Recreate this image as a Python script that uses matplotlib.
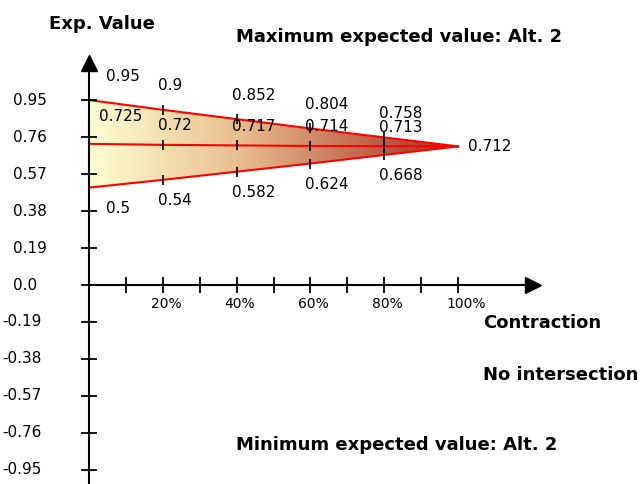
# expected value vs contraction, gradient wedge chart
import matplotlib
matplotlib.use('Agg')
import matplotlib.pyplot as plt
import numpy as np
from matplotlib.colors import LinearSegmentedColormap
from matplotlib.path import Path
from matplotlib.patches import PathPatch

# data
contraction = [0, 20, 40, 60, 80, 100]
upper = [0.95, 0.9, 0.852, 0.804, 0.758, 0.712]
middle = [0.725, 0.72, 0.717, 0.714, 0.713, 0.712]
lower = [0.5, 0.54, 0.582, 0.624, 0.668, 0.712]

ytick_values = [-0.95, -0.76, -0.57, -0.38, -0.19, 0.0, 0.19, 0.38, 0.57, 0.76, 0.95]
ytick_labels = ['-0.95', '-0.76', '-0.57', '-0.38', '-0.19', '0.0',
                '0.19', '0.38', '0.57', '0.76', '0.95']
xtick_values = [10, 20, 30, 40, 50, 60, 70, 80, 90, 100]
xlabel_values = [20, 40, 60, 80, 100]
xlabel_texts = ['20%', '40%', '60%', '80%', '100%']

W, H = 643, 484
X0, PX_PCT = 89, 3.69      # pixel of 0 %, pixels per percent
Y0, PX_VAL = 285, 194.7    # pixel row of 0.0, pixels per unit

fig = plt.figure(figsize=(W / 100, H / 100), dpi=100)
ax = fig.add_axes([0, 0, 1, 1])
ax.axis('off')

# gradient wedge between upper and lower line
verts = list(zip(contraction, upper)) + list(zip(contraction[::-1], lower[::-1]))
patch = PathPatch(Path(verts), facecolor='none', edgecolor='none')
ax.add_patch(patch)
cmap = LinearSegmentedColormap.from_list('wedge', [
    (0.0, (1.0, 1.0, 0.82)),
    (0.4, (0.91, 0.75, 0.57)),
    (0.75, (0.76, 0.40, 0.30)),
    (1.0, (0.65, 0.18, 0.12))])
ax.imshow(np.linspace(0, 1, 256).reshape(1, -1), cmap=cmap, aspect='auto',
          extent=[0, 100, min(lower), max(upper)], clip_path=patch, zorder=1)

for series in (upper, middle, lower):
    ax.plot(contraction, series, color='red', lw=1.5, zorder=2)
    ax.plot(contraction[1:-1], series[1:-1], ls='none', marker='|', ms=7,
            mew=1.2, color='black', zorder=3)

ax.set_xlim(-X0 / PX_PCT, (W - X0) / PX_PCT)
ax.set_ylim((Y0 - H) / PX_VAL, Y0 / PX_VAL)
ylo = ax.get_ylim()[0]

# axes with arrow heads
ax.plot([0, 0], [ylo, (Y0 - 66) / PX_VAL], color='black', lw=1.5, zorder=4)
ax.plot([0], [(Y0 - 63) / PX_VAL], marker='^', ms=11, color='black', zorder=4)
ax.plot([0, (527 - X0) / PX_PCT], [0, 0], color='black', lw=1.5, zorder=4)
ax.plot([(533 - X0) / PX_PCT], [0], marker='>', ms=11, color='black', zorder=4)

ax.plot([0] * len(ytick_values), ytick_values, ls='none', marker='_', ms=11,
        mew=1.3, color='black', zorder=4)
ax.plot(xtick_values, [0] * len(xtick_values), ls='none', marker='|', ms=11,
        mew=1.3, color='black', zorder=4)

for v, lab in zip(ytick_values, ytick_labels):
    xpos = (2 if v < 0 else 13) / W
    ax.text(xpos, v, lab, transform=ax.get_yaxis_transform(), ha='left',
            va='center', fontsize=11)

for x, lab in zip(xlabel_values, xlabel_texts):
    ax.annotate(lab, (x, 0), xytext=(-12, -19), textcoords='offset pixels',
                ha='left', va='center', fontsize=10)

# value labels
for i, (x, v) in enumerate(zip(contraction[:-1], upper[:-1])):
    ax.annotate(f'{v:g}', (x, v), xytext=(17 if i == 0 else -5, 24),
                textcoords='offset pixels', ha='left', va='center', fontsize=11)
for i, (x, v) in enumerate(zip(contraction[:-1], middle[:-1])):
    ax.annotate(f'{v:g}', (x, v), xytext=(10 if i == 0 else -5, 27 if i == 0 else 19),
                textcoords='offset pixels', ha='left', va='center', fontsize=11)
for i, (x, v) in enumerate(zip(contraction[:-1], lower[:-1])):
    ax.annotate(f'{v:g}', (x, v), xytext=(17 if i == 0 else -5, -21),
                textcoords='offset pixels', ha='left', va='center', fontsize=11)
ax.annotate(f'{middle[-1]:g}', (contraction[-1], middle[-1]), xytext=(10, 0),
            textcoords='offset pixels', ha='left', va='center', fontsize=11)

# titles and notes
bold = dict(fontweight='bold', fontsize=13, va='baseline', ha='left')
fig.text(49 / W, 1 - 29 / H, 'Exp. Value', **bold)
fig.text(236 / W, 1 - 42 / H, 'Maximum expected value: Alt. 2', **bold)
fig.text(483 / W, 1 - 328 / H, 'Contraction', **bold)
fig.text(483 / W, 1 - 380 / H, 'No intersection', **bold)
fig.text(236 / W, 1 - 450 / H, 'Minimum expected value: Alt. 2', **bold)

fig.savefig('out.png', dpi=100)
